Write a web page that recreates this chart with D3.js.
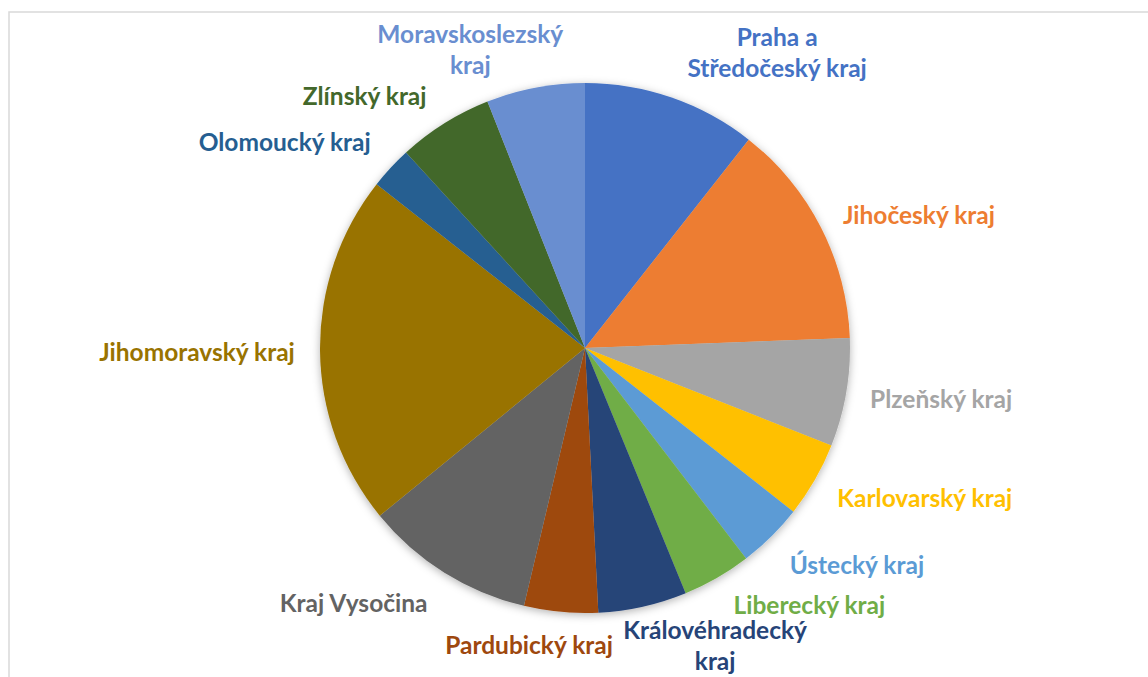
<!DOCTYPE html>
<html>
<head>
<meta charset="utf-8">
<script src="https://cdn.jsdelivr.net/npm/d3@7/dist/d3.min.js"></script>
<style>
  html, body { margin: 0; padding: 0; background: #fff; }
  svg { display: block; }
</style>
</head>
<body>
<svg id="chart" width="1148" height="677"></svg>
<script>
// ---- data ----
const regions = [
  "Praha a Středočeský kraj", "Jihočeský kraj", "Plzeňský kraj", "Karlovarský kraj",
  "Ústecký kraj", "Liberecký kraj", "Královéhradecký kraj", "Pardubický kraj",
  "Kraj Vysočina", "Jihomoravský kraj", "Olomoucký kraj", "Zlínský kraj",
  "Moravskoslezský kraj"
];
const shares = [10.6, 13.8, 6.6, 4.6, 4.0, 4.2, 5.4, 4.5, 10.4, 21.5, 2.6, 5.8, 6.0];
const labelLines = [
  ["Praha a", "Středočeský kraj"], ["Jihočeský kraj"], ["Plzeňský kraj"], ["Karlovarský kraj"],
  ["Ústecký kraj"], ["Liberecký kraj"], ["Královéhradecký", "kraj"], ["Pardubický kraj"],
  ["Kraj Vysočina"], ["Jihomoravský kraj"], ["Olomoucký kraj"], ["Zlínský kraj"],
  ["Moravskoslezský", "kraj"]
];

// ---- styling / layout ----
const colors = ["#4472C4", "#ED7D31", "#A5A5A5", "#FFC000", "#5B9BD5", "#70AD47",
                "#264478", "#9E480E", "#636363", "#997300", "#255E91", "#43682B", "#698ED0"];
// label offsets relative to a point on a circle around the pie at the slice mid-angle
const labelNudge = [[81, 26], [31, 22], [21, -6], [45, -19], [33, -25], [55, -38], [56, -34],
                    [-25, -41], [-51, -33], [-48, 1], [-51, 25], [-40, 36], [-51, 36]];
const W = 1148, H = 677;
const cx = 585, cy = 348, R = 265, labelR = 340;
const fontSize = 24.5, lineH = 31;

const svg = d3.select("#chart");

// chart frame
svg.append("rect")
  .attr("x", 9).attr("y", 12).attr("width", W + 20).attr("height", H + 20)
  .attr("fill", "#fff").attr("stroke", "#D9D9D9").attr("stroke-width", 1.5);

const defs = svg.append("defs");
const f = defs.append("filter").attr("id", "shadow")
  .attr("x", "-10%").attr("y", "-10%").attr("width", "120%").attr("height", "120%");
f.append("feDropShadow").attr("dx", 0).attr("dy", 2).attr("stdDeviation", 4)
  .attr("flood-color", "#000").attr("flood-opacity", 0.3);

const data = regions.map((r, i) => ({ name: r, value: shares[i], i }));
const pie = d3.pie().value(d => d.value).sort(null);
const arcs = pie(data);
const arc = d3.arc().innerRadius(0).outerRadius(R);

const g = svg.append("g").attr("transform", `translate(${cx},${cy})`);
g.append("g").attr("filter", "url(#shadow)")
  .selectAll("path").data(arcs).join("path")
  .attr("d", arc)
  .attr("fill", d => colors[d.data.i]);

const labelArc = d3.arc().innerRadius(labelR).outerRadius(labelR);
g.append("g").selectAll("text").data(arcs).join("text")
  .attr("text-anchor", "middle")
  .attr("font-family", "Lato, 'Open Sans', sans-serif")
  .attr("font-weight", "bold")
  .attr("font-size", fontSize)
  .attr("fill", d => colors[d.data.i])
  .each(function (d) {
    const [px, py] = labelArc.centroid(d);
    const [nx, ny] = labelNudge[d.data.i];
    const lines = labelLines[d.data.i];
    const x = px + nx, yc = py + ny;
    const y0 = yc - (lines.length - 1) * lineH / 2 + fontSize * 0.36;
    const t = d3.select(this);
    lines.forEach((ln, k) => {
      t.append("tspan").attr("x", x).attr("y", y0 + k * lineH).text(ln);
    });
  });
</script>
</body>
</html>
